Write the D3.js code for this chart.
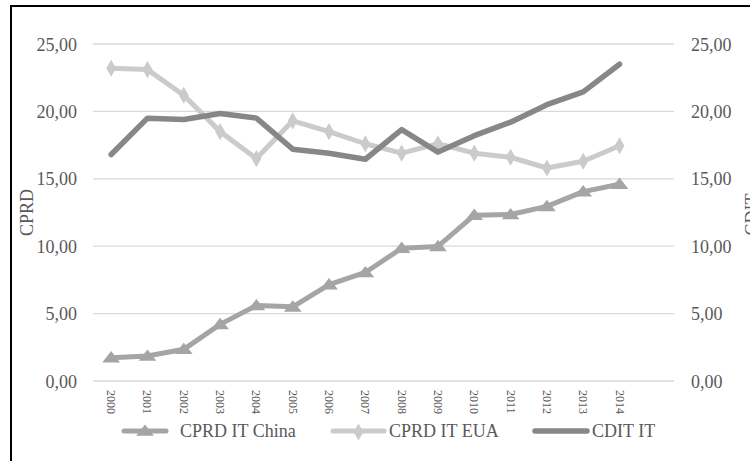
<!DOCTYPE html>
<html><head><meta charset="utf-8">
<script src="https://cdn.jsdelivr.net/npm/d3@7"></script>
<style>body{margin:0;background:#fff}svg{display:block}</style>
</head><body>
<svg id="c" width="750" height="461"></svg>
<script>
const years = ["2000","2001","2002","2003","2004","2005","2006","2007","2008","2009","2010","2011","2012","2013","2014",""];
const china = [1.73,1.85,2.35,4.2,5.6,5.5,7.15,8.05,9.85,9.98,12.3,12.35,12.95,14.05,14.6];
const eua = [23.2,23.1,21.2,18.5,16.5,19.3,18.5,17.6,16.9,17.6,16.9,16.6,15.8,16.3,17.45];
const cdit = [16.8,19.5,19.4,19.85,19.5,17.2,16.9,16.45,18.65,16.98,18.2,19.2,20.5,21.45,23.5];
const yTicks = [0,5,10,15,20,25];
const seriesNames = ["CPRD IT China","CPRD IT EUA","CDIT IT"];
const colors = ["#a5a5a5","#cbcbcb","#878787"];

(function(){
const svg = d3.select("#c");
const font = "'Liberation Serif','Times New Roman',serif";
const txt = "#595959";

svg.append("rect").attr("x",11).attr("y",6).attr("width",760).attr("height",480)
  .attr("fill","#fff").attr("stroke","#000").attr("stroke-width",2);

const pL=93, pR=674, pT=44, pB=381;
const x = d3.scaleBand().domain(years).range([pL,pR]);
const yL = d3.scaleLinear().domain([0,25]).range([pB,pT]);
const yR = d3.scaleLinear().domain([0,25]).range([pB,pT]);
const cx = d => x(d)+x.bandwidth()/2;

svg.append("g").selectAll("line").data(yTicks).join("line")
  .attr("x1",pL).attr("x2",pR).attr("y1",d=>yL(d)).attr("y2",d=>yL(d))
  .attr("stroke","#d9d9d9").attr("stroke-width",1.3);

const fmt = d => d3.format(".2f")(d).replace(".",",");
const gL = svg.append("g").attr("transform",`translate(${pL},0)`)
  .call(d3.axisLeft(yL).tickValues(yTicks).tickFormat(fmt).tickSize(0).tickPadding(16));
gL.select(".domain").remove();
gL.selectAll("text").attr("font-family",font).attr("font-size",18).attr("fill",txt).attr("dy","0.34em");

const gR = svg.append("g").attr("transform",`translate(${pR},0)`)
  .call(d3.axisRight(yR).tickValues(yTicks).tickFormat(fmt).tickSize(0).tickPadding(17));
gR.select(".domain").remove();
gR.selectAll("text").attr("font-family",font).attr("font-size",18).attr("fill",txt).attr("dy","0.34em");

const gX = svg.append("g").attr("transform",`translate(0,${pB})`)
  .call(d3.axisBottom(x).tickSize(0).tickPadding(0));
gX.select(".domain").remove();
gX.selectAll("text").attr("font-family",font).attr("font-size",12).attr("fill",txt)
  .attr("text-anchor","start").attr("dy",null).attr("y",0)
  .attr("transform","translate(-4,9) rotate(90)");

svg.append("text").attr("transform",`translate(33,${(pT+pB)/2}) rotate(-90)`)
  .attr("text-anchor","middle").attr("font-family",font).attr("font-size",18).attr("fill",txt).text("CPRD");
svg.append("text").attr("transform",`translate(758,${(pT+pB)/2+2}) rotate(-90)`)
  .attr("text-anchor","middle").attr("font-family",font).attr("font-size",18).attr("fill",txt).text("CDIT");

const line = (sc) => d3.line().x((d,i)=>cx(years[i])).y(d=>sc(d));
const tri = d3.symbol().type(d3.symbolTriangle).size(75);
const dia = d3.symbol().type(d3.symbolDiamond).size(85);

svg.append("path").attr("d",line(yL)(eua)).attr("fill","none").attr("stroke",colors[1])
  .attr("stroke-width",5).attr("stroke-linejoin","round").attr("stroke-linecap","round");
svg.append("g").selectAll("path").data(eua).join("path")
  .attr("transform",(d,i)=>`translate(${cx(years[i])},${yL(d)})`).attr("d",dia()).attr("fill",colors[1]);
svg.append("path").attr("d",line(yR)(cdit)).attr("fill","none").attr("stroke",colors[2])
  .attr("stroke-width",5.5).attr("stroke-linejoin","round").attr("stroke-linecap","round");
svg.append("path").attr("d",line(yL)(china)).attr("fill","none").attr("stroke",colors[0])
  .attr("stroke-width",5).attr("stroke-linejoin","round").attr("stroke-linecap","round");
svg.append("g").selectAll("path").data(china).join("path")
  .attr("transform",(d,i)=>`translate(${cx(years[i])},${yL(d)+1}) scale(1.35,1)`).attr("d",tri()).attr("fill",colors[0]);

const legItems = [
  {x1:124,x2:166,tx:180,sym:tri,sx:1.35},
  {x1:333,x2:384,tx:389,sym:dia,sx:1},
  {x1:535,x2:587,tx:592,sym:null}
];
const ly=431;
legItems.forEach((it,i)=>{
  svg.append("line").attr("x1",it.x1).attr("x2",it.x2).attr("y1",ly).attr("y2",ly)
    .attr("stroke",colors[i]).attr("stroke-width",i===2?5.5:5).attr("stroke-linecap","round");
  if(it.sym) svg.append("path").attr("transform",`translate(${(it.x1+it.x2)/2},${ly+1}) scale(${it.sx},1)`)
    .attr("d",it.sym()).attr("fill",colors[i]);
  svg.append("text").attr("x",it.tx).attr("y",ly+6).attr("font-family",font).attr("font-size",18)
    .attr("fill",txt).text(seriesNames[i]);
});
})();
</script>
</body></html>
